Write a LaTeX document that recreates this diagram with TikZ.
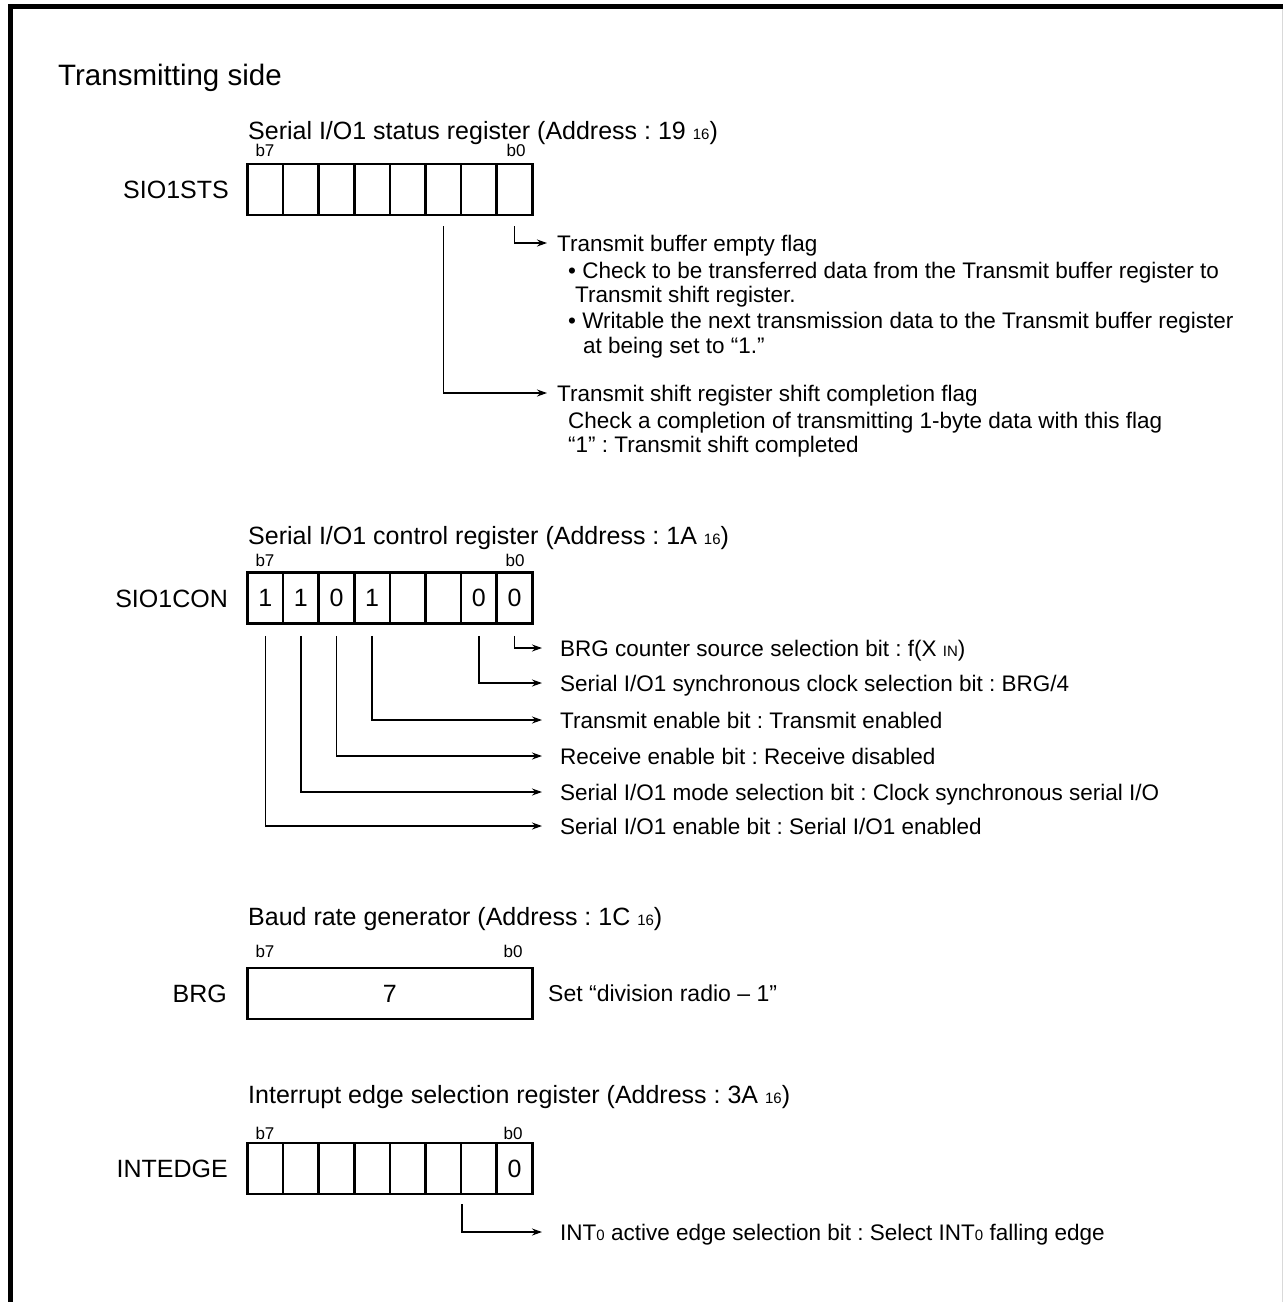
\documentclass[tikz,border=0pt]{standalone}
\usepackage{fontspec}
\setmainfont{Liberation Sans}
\usetikzlibrary{arrows.meta, positioning, calc}
\frenchspacing
\newcommand{\txtfont}{\fontsize{25}{30}\selectfont}
\newcommand{\descfont}{\fontsize{22.5}{27}\selectfont}
\newcommand{\bitfont}{\fontsize{17}{19}\selectfont}
\newcommand{\smallidx}[1]{{\fontsize{15}{18}\selectfont #1}}
\tikzset{
  regcell/.style={draw, line width=2.6pt, minimum width=35.6pt, minimum height=51pt,
    inner sep=0pt, font=\txtfont},
  reglabel/.style={anchor=east, inner sep=0pt, font=\txtfont, text height=18pt, text depth=0pt},
  regtitle/.style={anchor=west, inner sep=0pt, font=\txtfont, text height=18pt, text depth=0pt},
  bitnum/.style={inner sep=0pt, font=\bitfont},
  desc/.style={anchor=west, inner sep=0pt, font=\descfont, text height=16pt, text depth=0pt},
  conn/.style={line width=1.4pt, -{Stealth[length=10pt, width=7pt]}},
}

\begin{document}
\begin{tikzpicture}[x=1pt, y=-1pt]
  \useasboundingbox (0,0) rectangle (1283,1302);
  \draw[line width=5pt] (10.5,1302) -- (10.5,6.5) -- (1283,6.5);
  \draw[black!15, line width=1pt] (1282,9) -- (1282,1302);

  \node[anchor=base west, inner sep=0pt, font=\fontsize{29.5}{34}\selectfont] (title) at (58,85) {Transmitting side};

  % SIO1STS
  \node[regtitle] (sts-cap) at (248,130) {Serial I/O1 status register (Address : 19 \smallidx{16})};
  \foreach \i in {0,...,7} {
    \pgfmathtruncatemacro{\bn}{7-\i}
    \node[regcell] (sts\bn) at (265.3+35.6*\i,189.5) {};
  }
  \node[bitnum] (sts-b7) at (265,150) {b7};
  \node[bitnum] (sts-b0) at (516,150) {b0};
  \node[reglabel] (sts-name) at (229,189.5) {SIO1STS};

  \node[desc] (d-tbe) at (557,243) {Transmit buffer empty flag};
  \node[desc] (d-tbe1) at (568,270) {\textbullet\ Check to be transferred data from the Transmit buffer register to};
  \node[desc] (d-tbe2) at (575,294) {Transmit shift register.};
  \node[desc] (d-tbe3) at (568,320) {\textbullet\ Writable the next transmission data to the Transmit buffer register};
  \node[desc] (d-tbe4) at (583,345) {at being set to “1.”};
  \node[desc] (d-tsc) at (557,393) {Transmit shift register shift completion flag};
  \node[desc] (d-tsc1) at (568,420) {Check a completion of transmitting 1-byte data with this flag};
  \node[desc] (d-tsc2) at (568,444) {“1” : Transmit shift completed};

  \draw[conn] ([yshift=-10pt]sts0.south) |- ([xshift=-10pt]d-tbe.west);
  \draw[conn] ([yshift=-10pt]sts2.south) |- ([xshift=-10pt]d-tsc.west);

  % SIO1CON
  \node[regtitle] (con-cap) at (248,535) {Serial I/O1 control register (Address : 1A \smallidx{16})};
  \foreach \v [count=\i from 0] in {1,1,0,1,{},{},0,0} {
    \pgfmathtruncatemacro{\bn}{7-\i}
    \node[regcell] (con\bn) at (265.3+35.6*\i,598) {\v};
  }
  \node[bitnum] (con-b7) at (265,560) {b7};
  \node[bitnum] (con-b0) at (515,560) {b0};
  \node[reglabel] (con-name) at (228,598) {SIO1CON};

  \node[desc] (d-cks) at (560,648) {BRG counter source selection bit : f(X \smallidx{IN})};
  \node[desc] (d-sck) at (560,683) {Serial I/O1 synchronous clock selection bit : BRG/4};
  \node[desc] (d-te) at (560,720) {Transmit enable bit : Transmit enabled};
  \node[desc] (d-re) at (560,756) {Receive enable bit : Receive disabled};
  \node[desc] (d-mode) at (560,792) {Serial I/O1 mode selection bit : Clock synchronous serial I/O};
  \node[desc] (d-en) at (560,826) {Serial I/O1 enable bit : Serial I/O1 enabled};

  \draw[conn] ([yshift=-11pt]con0.south) |- ([xshift=-18pt]d-cks.west);
  \draw[conn] ([yshift=-11pt]con1.south) |- ([xshift=-18pt]d-sck.west);
  \draw[conn] ([yshift=-11pt]con4.south) |- ([xshift=-18pt]d-te.west);
  \draw[conn] ([yshift=-11pt]con5.south) |- ([xshift=-18pt]d-re.west);
  \draw[conn] ([yshift=-11pt]con6.south) |- ([xshift=-18pt]d-mode.west);
  \draw[conn] ([yshift=-11pt]con7.south) |- ([xshift=-18pt]d-en.west);

  % BRG
  \node[regtitle] (brg-cap) at (248,916) {Baud rate generator (Address : 1C \smallidx{16})};
  \node[regcell, minimum width=284.8pt] (brg) at (389.9,993.5) {7};
  \node[bitnum] (brg-b7) at (265,951) {b7};
  \node[bitnum] (brg-b0) at (513,951) {b0};
  \node[reglabel] (brg-name) at (227,993.5) {BRG};
  \node[desc, font=\fontsize{23}{27}\selectfont] (d-brg) at (548,993.5) {Set “division radio – 1”};

  % INTEDGE
  \node[regtitle] (ie-cap) at (248,1094) {Interrupt edge selection register (Address : 3A \smallidx{16})};
  \foreach \v [count=\i from 0] in {{},{},{},{},{},{},{},0} {
    \pgfmathtruncatemacro{\bn}{7-\i}
    \node[regcell] (ie\bn) at (265.3+35.6*\i,1168.5) {\v};
  }
  \node[bitnum] (ie-b7) at (265,1133) {b7};
  \node[bitnum] (ie-b0) at (513,1133) {b0};
  \node[reglabel] (ie-name) at (228,1168.5) {INTEDGE};

  \node[desc] (d-int0) at (560,1232) {INT\smallidx{0} active edge selection bit : Select INT\smallidx{0} falling edge};
  \draw[conn] ([xshift=2pt,yshift=-9pt]ie1.south west) |- ([xshift=-18pt]d-int0.west);
\end{tikzpicture}
\end{document}
